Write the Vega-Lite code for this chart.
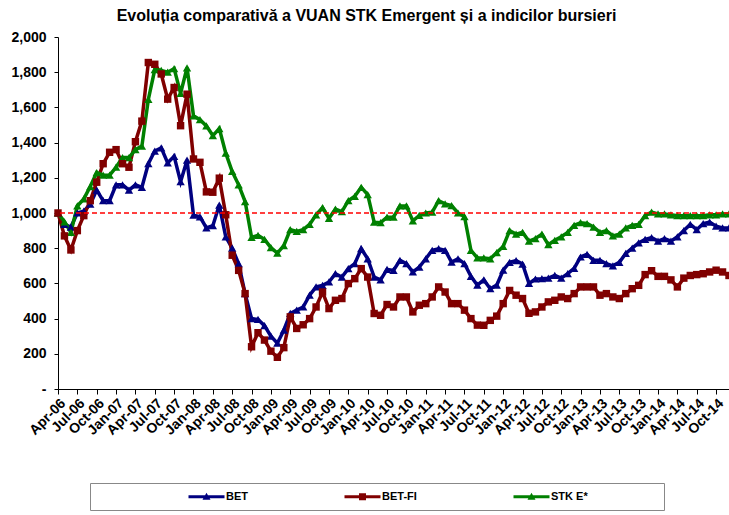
{
  "$schema": "https://vega.github.io/schema/vega-lite/v6.json",
  "width": 671,
  "height": 352,
  "autosize": {"type": "none"},
  "padding": {"left": 58, "top": 37, "right": 0, "bottom": 126},
  "background": "white",
  "title": {
    "text": "Evoluția  comparativă a VUAN STK Emergent și a indicilor bursieri",
    "font": "Liberation Sans",
    "fontSize": 16,
    "fontWeight": "bold",
    "color": "black",
    "anchor": "middle",
    "frame": "group",
    "dx": -27,
    "offset": 6
  },
  "config": {
    "view": {"stroke": null},
    "font": "Liberation Sans",
    "axisY": {
      "title": null,
      "values": [0, 200, 400, 600, 800, 1000, 1200, 1400, 1600, 1800, 2000],
      "labelExpr": "datum.value == 0 ? '-' : format(datum.value, ',')",
      "labelOverlap": false,
      "labelFont": "Liberation Sans",
      "labelFontSize": 14,
      "labelFontWeight": "bold",
      "labelColor": "black",
      "labelPadding": 8,
      "tickSize": 4,
      "tickColor": "black",
      "domainColor": "black",
      "grid": false
    }
  },
  "layer": [
    {
      "data": {"values": [
        {"m": "Apr-06", "BET": 1000, "BET-FI": 1000, "STK E*": 1000},
        {"m": "May-06", "BET": 935, "BET-FI": 870, "STK E*": 950},
        {"m": "Jun-06", "BET": 920, "BET-FI": 790, "STK E*": 890},
        {"m": "Jul-06", "BET": 1000, "BET-FI": 900, "STK E*": 1040},
        {"m": "Aug-06", "BET": 1010, "BET-FI": 985, "STK E*": 1080},
        {"m": "Sep-06", "BET": 1050, "BET-FI": 1070, "STK E*": 1150},
        {"m": "Oct-06", "BET": 1130, "BET-FI": 1175, "STK E*": 1230},
        {"m": "Nov-06", "BET": 1070, "BET-FI": 1280, "STK E*": 1215},
        {"m": "Dec-06", "BET": 1070, "BET-FI": 1345, "STK E*": 1215},
        {"m": "Jan-07", "BET": 1160, "BET-FI": 1360, "STK E*": 1260},
        {"m": "Feb-07", "BET": 1160, "BET-FI": 1280, "STK E*": 1315},
        {"m": "Mar-07", "BET": 1130, "BET-FI": 1260, "STK E*": 1315},
        {"m": "Apr-07", "BET": 1160, "BET-FI": 1405, "STK E*": 1360},
        {"m": "May-07", "BET": 1145, "BET-FI": 1522, "STK E*": 1380},
        {"m": "Jun-07", "BET": 1280, "BET-FI": 1855, "STK E*": 1645},
        {"m": "Jul-07", "BET": 1352, "BET-FI": 1845, "STK E*": 1815},
        {"m": "Aug-07", "BET": 1370, "BET-FI": 1790, "STK E*": 1810},
        {"m": "Sep-07", "BET": 1285, "BET-FI": 1647, "STK E*": 1800},
        {"m": "Oct-07", "BET": 1322, "BET-FI": 1713, "STK E*": 1820},
        {"m": "Nov-07", "BET": 1178, "BET-FI": 1496, "STK E*": 1680},
        {"m": "Dec-07", "BET": 1300, "BET-FI": 1675, "STK E*": 1825},
        {"m": "Jan-08", "BET": 988, "BET-FI": 1307, "STK E*": 1552},
        {"m": "Feb-08", "BET": 978, "BET-FI": 1288, "STK E*": 1530},
        {"m": "Mar-08", "BET": 915, "BET-FI": 1120, "STK E*": 1495},
        {"m": "Apr-08", "BET": 928, "BET-FI": 1118, "STK E*": 1440},
        {"m": "May-08", "BET": 1045, "BET-FI": 1198, "STK E*": 1480},
        {"m": "Jun-08", "BET": 865, "BET-FI": 990, "STK E*": 1340},
        {"m": "Jul-08", "BET": 800, "BET-FI": 760, "STK E*": 1236},
        {"m": "Aug-08", "BET": 712, "BET-FI": 674, "STK E*": 1160},
        {"m": "Sep-08", "BET": 542, "BET-FI": 542, "STK E*": 1065},
        {"m": "Oct-08", "BET": 400, "BET-FI": 240, "STK E*": 862},
        {"m": "Nov-08", "BET": 395, "BET-FI": 320, "STK E*": 873},
        {"m": "Dec-08", "BET": 360, "BET-FI": 278, "STK E*": 850},
        {"m": "Jan-09", "BET": 300, "BET-FI": 215, "STK E*": 803},
        {"m": "Feb-09", "BET": 260, "BET-FI": 180, "STK E*": 772},
        {"m": "Mar-09", "BET": 334, "BET-FI": 235, "STK E*": 815},
        {"m": "Apr-09", "BET": 429, "BET-FI": 410, "STK E*": 905},
        {"m": "May-09", "BET": 448, "BET-FI": 344, "STK E*": 895},
        {"m": "Jun-09", "BET": 466, "BET-FI": 365, "STK E*": 905},
        {"m": "Jul-09", "BET": 533, "BET-FI": 400, "STK E*": 935},
        {"m": "Aug-09", "BET": 580, "BET-FI": 466, "STK E*": 990},
        {"m": "Sep-09", "BET": 589, "BET-FI": 551, "STK E*": 1030},
        {"m": "Oct-09", "BET": 608, "BET-FI": 457, "STK E*": 970},
        {"m": "Nov-09", "BET": 655, "BET-FI": 504, "STK E*": 1022},
        {"m": "Dec-09", "BET": 636, "BET-FI": 514, "STK E*": 1008},
        {"m": "Jan-10", "BET": 684, "BET-FI": 599, "STK E*": 1070},
        {"m": "Feb-10", "BET": 712, "BET-FI": 627, "STK E*": 1095},
        {"m": "Mar-10", "BET": 797, "BET-FI": 684, "STK E*": 1146},
        {"m": "Apr-10", "BET": 740, "BET-FI": 636, "STK E*": 1105},
        {"m": "May-10", "BET": 636, "BET-FI": 429, "STK E*": 948},
        {"m": "Jun-10", "BET": 620, "BET-FI": 419, "STK E*": 945},
        {"m": "Jul-10", "BET": 680, "BET-FI": 480, "STK E*": 976},
        {"m": "Aug-10", "BET": 674, "BET-FI": 466, "STK E*": 976},
        {"m": "Sep-10", "BET": 731, "BET-FI": 523, "STK E*": 1040},
        {"m": "Oct-10", "BET": 712, "BET-FI": 523, "STK E*": 1040},
        {"m": "Nov-10", "BET": 665, "BET-FI": 438, "STK E*": 955},
        {"m": "Dec-10", "BET": 693, "BET-FI": 476, "STK E*": 986},
        {"m": "Jan-11", "BET": 740, "BET-FI": 485, "STK E*": 1000},
        {"m": "Feb-11", "BET": 788, "BET-FI": 523, "STK E*": 1005},
        {"m": "Mar-11", "BET": 797, "BET-FI": 580, "STK E*": 1070},
        {"m": "Apr-11", "BET": 788, "BET-FI": 551, "STK E*": 1052},
        {"m": "May-11", "BET": 721, "BET-FI": 485, "STK E*": 1042},
        {"m": "Jun-11", "BET": 740, "BET-FI": 485, "STK E*": 1000},
        {"m": "Jul-11", "BET": 712, "BET-FI": 448, "STK E*": 980},
        {"m": "Aug-11", "BET": 640, "BET-FI": 400, "STK E*": 788},
        {"m": "Sep-11", "BET": 590, "BET-FI": 363, "STK E*": 745},
        {"m": "Oct-11", "BET": 620, "BET-FI": 362, "STK E*": 745},
        {"m": "Nov-11", "BET": 570, "BET-FI": 390, "STK E*": 740},
        {"m": "Dec-11", "BET": 590, "BET-FI": 414, "STK E*": 775},
        {"m": "Jan-12", "BET": 675, "BET-FI": 485, "STK E*": 810},
        {"m": "Feb-12", "BET": 720, "BET-FI": 560, "STK E*": 900},
        {"m": "Mar-12", "BET": 730, "BET-FI": 533, "STK E*": 880},
        {"m": "Apr-12", "BET": 710, "BET-FI": 514, "STK E*": 890},
        {"m": "May-12", "BET": 600, "BET-FI": 430, "STK E*": 840},
        {"m": "Jun-12", "BET": 625, "BET-FI": 438, "STK E*": 855},
        {"m": "Jul-12", "BET": 627, "BET-FI": 466, "STK E*": 880},
        {"m": "Aug-12", "BET": 630, "BET-FI": 495, "STK E*": 820},
        {"m": "Sep-12", "BET": 646, "BET-FI": 504, "STK E*": 845},
        {"m": "Oct-12", "BET": 630, "BET-FI": 523, "STK E*": 865},
        {"m": "Nov-12", "BET": 655, "BET-FI": 514, "STK E*": 890},
        {"m": "Dec-12", "BET": 685, "BET-FI": 542, "STK E*": 930},
        {"m": "Jan-13", "BET": 750, "BET-FI": 580, "STK E*": 945},
        {"m": "Feb-13", "BET": 765, "BET-FI": 580, "STK E*": 940},
        {"m": "Mar-13", "BET": 731, "BET-FI": 580, "STK E*": 920},
        {"m": "Apr-13", "BET": 731, "BET-FI": 533, "STK E*": 890},
        {"m": "May-13", "BET": 712, "BET-FI": 542, "STK E*": 900},
        {"m": "Jun-13", "BET": 700, "BET-FI": 523, "STK E*": 870},
        {"m": "Jul-13", "BET": 720, "BET-FI": 514, "STK E*": 880},
        {"m": "Aug-13", "BET": 770, "BET-FI": 542, "STK E*": 915},
        {"m": "Sep-13", "BET": 800, "BET-FI": 570, "STK E*": 930},
        {"m": "Oct-13", "BET": 830, "BET-FI": 589, "STK E*": 935},
        {"m": "Nov-13", "BET": 850, "BET-FI": 650, "STK E*": 985},
        {"m": "Dec-13", "BET": 860, "BET-FI": 672, "STK E*": 1005},
        {"m": "Jan-14", "BET": 840, "BET-FI": 640, "STK E*": 995},
        {"m": "Feb-14", "BET": 855, "BET-FI": 640, "STK E*": 995},
        {"m": "Mar-14", "BET": 840, "BET-FI": 620, "STK E*": 990},
        {"m": "Apr-14", "BET": 865, "BET-FI": 580, "STK E*": 985},
        {"m": "May-14", "BET": 900, "BET-FI": 630, "STK E*": 985},
        {"m": "Jun-14", "BET": 935, "BET-FI": 645, "STK E*": 985},
        {"m": "Jul-14", "BET": 905, "BET-FI": 650, "STK E*": 985},
        {"m": "Aug-14", "BET": 940, "BET-FI": 655, "STK E*": 985},
        {"m": "Sep-14", "BET": 948, "BET-FI": 665, "STK E*": 990},
        {"m": "Oct-14", "BET": 925, "BET-FI": 675, "STK E*": 990},
        {"m": "Nov-14", "BET": 915, "BET-FI": 665, "STK E*": 995},
        {"m": "Dec-14", "BET": 915, "BET-FI": 645, "STK E*": 995}
      ]},
      "transform": [{"fold": ["BET", "BET-FI", "STK E*"], "as": ["serie", "valoare"]}],
      "encoding": {
        "x": {
          "field": "m",
          "type": "ordinal",
          "sort": null,
          "scale": {"type": "point", "padding": 0},
          "axis": {
            "title": null,
            "values": ["Apr-06","Jul-06","Oct-06","Jan-07","Apr-07","Jul-07","Oct-07","Jan-08","Apr-08","Jul-08","Oct-08","Jan-09","Apr-09","Jul-09","Oct-09","Jan-10","Apr-10","Jul-10","Oct-10","Jan-11","Apr-11","Jul-11","Oct-11","Jan-12","Apr-12","Jul-12","Oct-12","Jan-13","Apr-13","Jul-13","Oct-13","Jan-14","Apr-14","Jul-14","Oct-14"],
            "labelAngle": -45,
            "labelOverlap": false,
            "labelFont": "Liberation Sans",
            "labelFontSize": 14,
            "labelFontWeight": "bold",
            "labelColor": "black",
            "labelPadding": 2,
            "tickSize": 5,
            "tickColor": "black",
            "domainColor": "black",
            "domainWidth": 1,
            "grid": false
          }
        },
        "y": {
          "field": "valoare",
          "type": "quantitative",
          "scale": {"domain": [0, 2000], "nice": false}
        },
        "color": {
          "field": "serie",
          "type": "nominal",
          "scale": {"domain": ["BET", "BET-FI", "STK E*"], "range": ["#000080", "#800000", "#008000"]},
          "legend": {
            "title": "\u00a0",
            "titleOrient": "right",
            "titlePadding": 68,
            "orient": "none",
            "legendX": 32,
            "legendY": 446,
            "direction": "horizontal",
            "columns": 3,
            "columnPadding": 6,
            "padding": 8,
            "strokeColor": "#888888",
            "fillColor": "white",
            "symbolSize": 100,
            "symbolStrokeWidth": 0,
            "symbolOffset": 103,
            "labelOffset": 14,
            "labelFont": "Liberation Sans",
            "labelFontSize": 11,
            "labelFontWeight": "bold",
            "labelColor": "black",
            "encode": {
              "symbols": {
                "update": {
                  "shape": {"signal": "datum.value === 'BET-FI' ? 'M-3.6,-0.3H3.6V0.3H-3.6ZM-0.7,-0.7H0.7V0.7H-0.7Z' : 'M-3.6,-0.3H3.6V0.3H-3.6ZM-0.8,0.6L0,-0.8L0.8,0.6Z'"},
                  "fill": {"scale": "color", "field": "value"},
                  "opacity": {"value": 1}
                }
              }
            }
          }
        }
      },
      "layer": [
        {"mark": {"type": "line", "strokeWidth": 3.5}},
        {
          "transform": [{"filter": "datum.serie !== 'BET-FI'"}],
          "mark": {"type": "point", "shape": "triangle-up", "filled": true, "size": 70, "opacity": 1}
        },
        {
          "transform": [{"filter": "datum.serie === 'BET-FI'"}],
          "mark": {"type": "point", "shape": "square", "filled": true, "size": 55, "opacity": 1}
        }
      ]
    },
    {
      "data": {"values": [{"ref": 1000}]},
      "mark": {"type": "rule", "color": "#FF0000", "strokeDash": [5, 3], "strokeWidth": 1.5},
      "encoding": {"y": {"field": "ref", "type": "quantitative"}}
    }
  ]
}
